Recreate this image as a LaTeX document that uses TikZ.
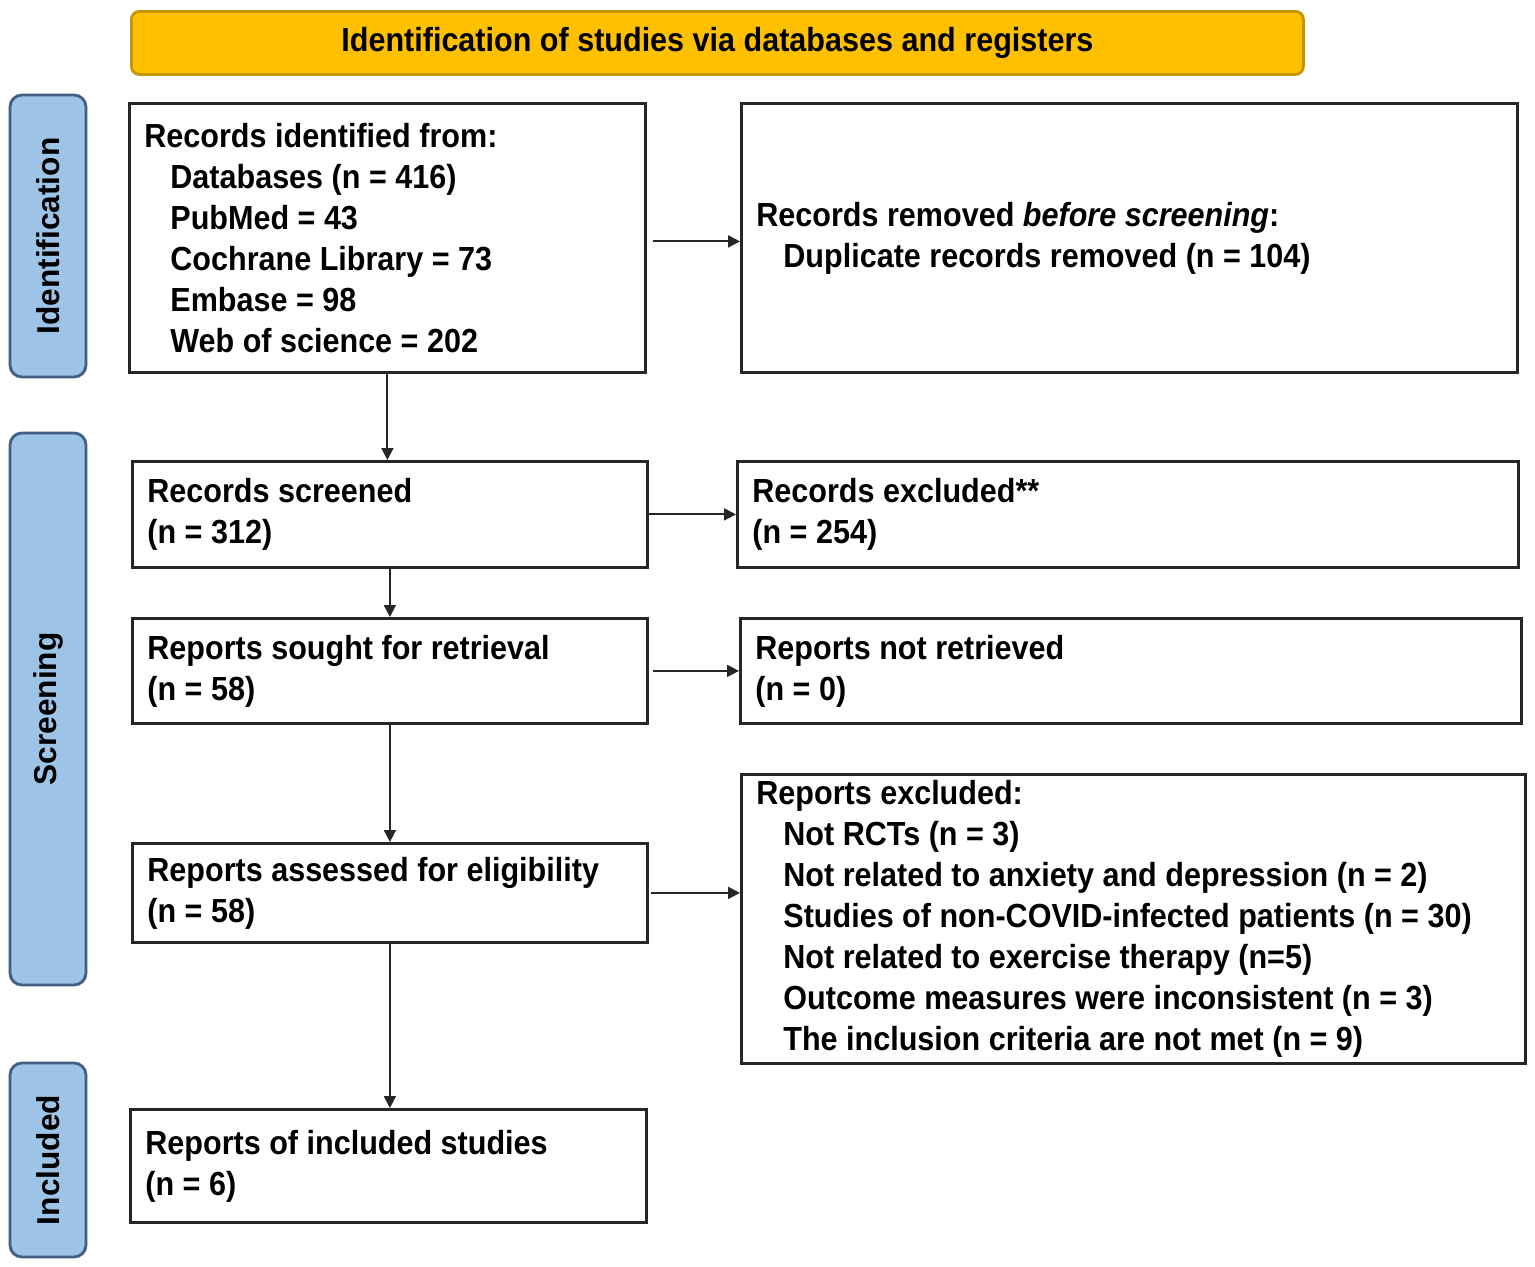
\documentclass[tikz,border=0pt]{standalone}
\usepackage{fontspec}
\setmainfont{Liberation Sans}[FakeStretch=0.915]
\newfontfamily\sidefont{Liberation Sans}
\usetikzlibrary{arrows.meta}
\definecolor{bannergold}{RGB}{255,192,0}
\definecolor{bannerline}{RGB}{196,150,0}
\definecolor{sideblue}{RGB}{157,195,230}
\definecolor{sideline}{RGB}{65,95,130}

\begin{document}
\begin{tikzpicture}[
  box/.style={draw=black!85, line width=0.8pt, rectangle, anchor=north west,
    inner xsep=0.15cm, inner ysep=0pt, align=flush left,
    font=\bfseries\fontsize{9.5}{11.66}\selectfont},
  sidebox/.style={draw=sideline, fill=sideblue, line width=0.8pt, rounded corners=0.12cm,
    rotate=90, minimum height=0.76cm, inner sep=0pt,
    font=\sidefont\bfseries\fontsize{9}{11}\selectfont},
  arr/.style={-{Triangle[length=1.2mm,width=1.2mm]}, line width=0.55pt, draw=black!85}
]
\useasboundingbox (0,0) rectangle (15.35,-12.67);
\fill[white] (0,0) rectangle (15.35,-12.67);

% Banner
\node[draw=bannerline, fill=bannergold, line width=0.8pt, rounded corners=0.08cm,
  anchor=north west, minimum width=11.72cm, minimum height=0.63cm, inner sep=0pt,
  font=\bfseries\fontsize{9.5}{11.66}\selectfont] (banner) at (1.30,-0.10)
  {Identification of studies via databases and registers};

% Side labels
\node[sidebox, minimum width=2.82cm] (sideid) at (0.48,-2.36) {Identification};
\node[sidebox, minimum width=5.52cm] (sidescr) at (0.48,-7.09) {Screening};
\node[sidebox, minimum width=1.94cm] (sideinc) at (0.48,-11.60) {Included};

% Identification
\node[box, minimum width=5.16cm, minimum height=2.69cm, text width=4.86cm] (identified) at (1.28,-1.02)
  {Records identified from:\\
   \hspace*{0.26cm}Databases (n = 416)\\
   \hspace*{0.26cm}PubMed = 43\\
   \hspace*{0.26cm}Cochrane Library = 73\\
   \hspace*{0.26cm}Embase = 98\\
   \hspace*{0.26cm}Web of science = 202};
\node[box, minimum width=7.76cm, minimum height=2.69cm, text width=7.46cm] (removed) at (7.40,-1.02)
  {Records removed \textit{before screening}:\\
   \hspace*{0.27cm}Duplicate records removed (n = 104)};

% Screening
\node[box, minimum width=5.15cm, minimum height=1.06cm, text width=4.85cm] (screened) at (1.31,-4.60)
  {Records screened\\(n = 312)};
\node[box, minimum width=7.81cm, minimum height=1.06cm, text width=7.51cm] (excluded) at (7.36,-4.60)
  {Records excluded**\\(n = 254)};
\node[box, minimum width=5.15cm, minimum height=1.05cm, text width=4.85cm] (sought) at (1.31,-6.17)
  {Reports sought for retrieval\\(n = 58)};
\node[box, minimum width=7.81cm, minimum height=1.05cm, text width=7.51cm] (notretr) at (7.39,-6.17)
  {Reports not retrieved\\(n = 0)};
\node[box, minimum width=5.15cm, minimum height=0.99cm, text width=4.85cm] (assessed) at (1.31,-8.42)
  {Reports assessed for eligibility\\(n = 58)};
\node[box, minimum width=7.84cm, minimum height=2.89cm, text width=7.54cm] (repexcl) at (7.40,-7.73)
  {Reports excluded:\\
   \hspace*{0.27cm}Not RCTs (n = 3)\\
   \hspace*{0.27cm}Not related to anxiety and depression (n = 2)\\
   \hspace*{0.27cm}Studies of non-COVID-infected patients (n = 30)\\
   \hspace*{0.27cm}Not related to exercise therapy (n=5)\\
   \hspace*{0.27cm}Outcome measures were inconsistent (n = 3)\\
   \hspace*{0.27cm}The inclusion criteria are not met (n = 9)};

% Included
\node[box, minimum width=5.16cm, minimum height=1.13cm, text width=4.86cm] (included) at (1.29,-11.08)
  {Reports of included studies\\(n = 6)};

% Arrows
\draw[arr] (identified.south) -- (identified.south |- screened.north);
\draw[arr] (screened.south) -- (screened.south |- sought.north);
\draw[arr] (sought.south) -- (sought.south |- assessed.north);
\draw[arr] (assessed.south) -- (assessed.south |- included.north);
\draw[arr, shorten <=0.06cm] ([yshift=-0.035cm]identified.east) -- ([yshift=-0.035cm]identified.east -| removed.west);
\draw[arr] (screened.east) -- (screened.east -| excluded.west);
\draw[arr, shorten <=0.04cm] (sought.east) -- (sought.east -| notretr.west);
\draw[arr, shorten <=0.02cm] (assessed.east) -- (assessed.east -| repexcl.west);
\end{tikzpicture}
\end{document}
